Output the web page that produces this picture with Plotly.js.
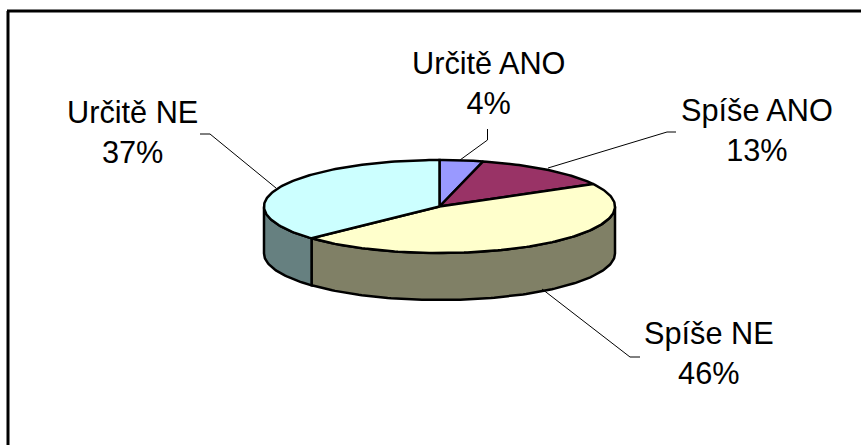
<!DOCTYPE html>
<html><head><meta charset="utf-8">
<script src="https://cdn.plot.ly/plotly-3.0.1.min.js"></script>
<style>html,body{margin:0;padding:0;background:#fff}</style></head>
<body><div id="chart" style="width:861px;height:445px"></div>
<script>
var categories = ["Určitě ANO", "Spíše ANO", "Spíše NE", "Určitě NE"];
var values = [4, 13, 46, 37];
var topColors = ["#9999FF", "#993366", "#FFFFCC", "#CCFFFF"];
var sideColors = ["#4D4D80", "#4D1A33", "#808066", "#668080"];
var labelX = [488, 757, 708.5, 132];
var labelY = [83, 130.5, 353, 132.5];
var leaderX = [[487.5,487.5,460],[676,667,548],[640,630,542],[200,210,276]];
var leaderY = [[129,140,160],[132,132,168],[357,357,289],[134,134,188]];

var cx = 439.5, cy = 206.5, rx = 175.5, ry = 46.5, depth = 47;
var total = values.reduce(function(a,b){return a+b;},0);
function px(t){return cx + rx*Math.sin(t);}
function py(t){return cy - ry*Math.cos(t);}
function range(a,b){var n=Math.max(2,Math.ceil(Math.abs(b-a)/0.02)),o=[];for(var i=0;i<=n;i++)o.push(a+(b-a)*i/n);return o;}

var wallTraces = [], topTraces = [], cum = 0;
values.forEach(function(v,i){
  var a = cum/total*2*Math.PI, b = (cum+v)/total*2*Math.PI;
  cum += v;
  var ts = range(a,b);
  var x = [cx].concat(ts.map(px)).concat([cx]);
  var y = [cy].concat(ts.map(py)).concat([cy]);
  topTraces.push({x:x,y:y,mode:'lines',fill:'toself',fillcolor:topColors[i],line:{color:'#000',width:2.5},hoverinfo:'skip',showlegend:false,name:categories[i]});
  var lo = Math.max(a,Math.PI/2), hi = Math.min(b,1.5*Math.PI);
  if (hi > lo) {
    var w = range(lo,hi);
    var wx = w.map(px), wy = w.map(py);
    var rw = w.slice().reverse();
    wallTraces.push({x:wx.concat(rw.map(px)).concat([wx[0]]),
      y:wy.concat(rw.map(function(t){return py(t)+depth;})).concat([wy[0]]),
      mode:'lines',fill:'toself',fillcolor:sideColors[i],line:{color:'#000',width:2.5},hoverinfo:'skip',showlegend:false});
  }
});
var leaderTraces = leaderX.map(function(lx,i){
  return {x:lx,y:leaderY[i],mode:'lines',line:{color:'#000',width:1},hoverinfo:'skip',showlegend:false};
});
var annotations = categories.map(function(c,i){
  return {x:labelX[i],y:labelY[i],xref:'x',yref:'y',showarrow:false,align:'center',
    text:c+'<br>'+values[i]+'%',font:{family:'Liberation Sans, Arial, sans-serif',size:30.7,color:'#000'}};
});
Plotly.newPlot('chart', wallTraces.concat(topTraces).concat(leaderTraces), {
  width:861,height:445,margin:{l:0,r:0,t:0,b:0},paper_bgcolor:'#fff',plot_bgcolor:'#fff',
  xaxis:{range:[0,861],visible:false,fixedrange:true},
  yaxis:{range:[445,0],visible:false,fixedrange:true},
  showlegend:false,annotations:annotations,
  shapes:[
    {type:'line',xref:'x',yref:'y',x0:7,y0:11,x1:861,y1:11,line:{color:'#000',width:3}},
    {type:'line',xref:'x',yref:'y',x0:8,y0:11,x1:8,y1:445,line:{color:'#000',width:3}}
  ]
},{displayModeBar:false,staticPlot:true});
</script></body></html>
